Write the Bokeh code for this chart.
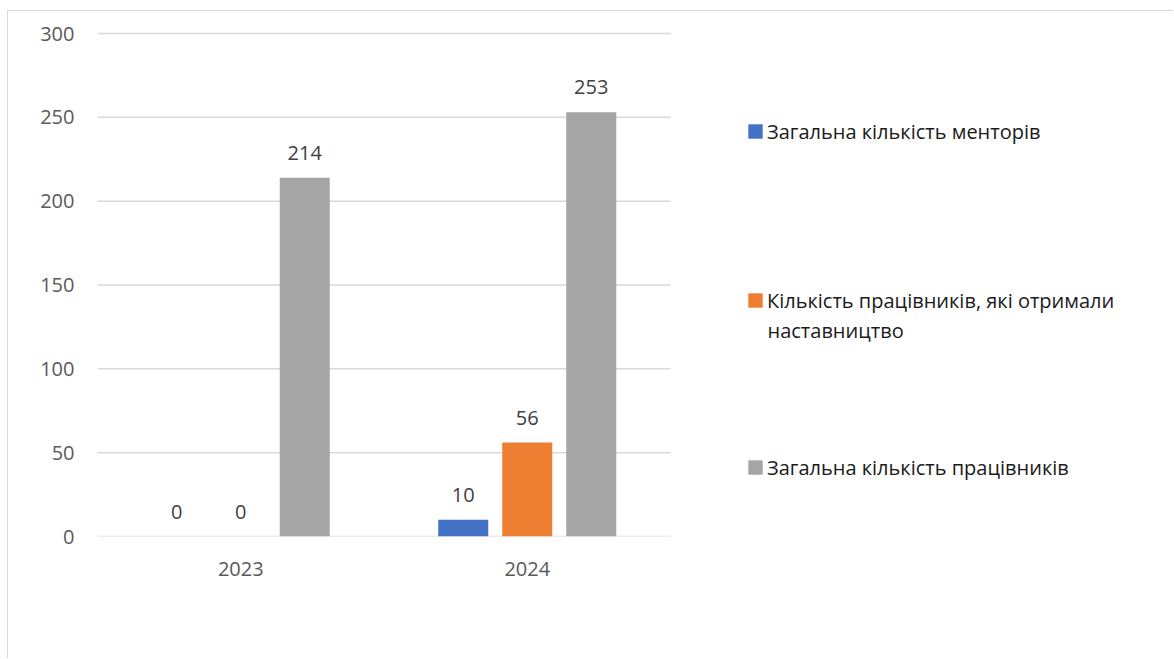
from bokeh.plotting import figure
from bokeh.models import (ColumnDataSource, Range1d, FixedTicker, LabelSet, Label,
                          Legend, LegendItem)
from bokeh.core.properties import value
from bokeh.embed import file_html
from bokeh.resources import INLINE

years = ["2023", "2024"]
mentors = [0, 10]
mentees = [0, 56]
employees = [214, 253]
series_names = ["Загальна кількість менторів",
                "Кількість працівників, які отримали",
                "Загальна кількість працівників"]
series2_second_line = "наставництво"
y_ticks = [0, 50, 100, 150, 200, 250, 300]

colors = ["#4472C4", "#ED7D31", "#A5A5A5"]
FONT = "Open Sans"

xc = [i + 0.5 for i in range(len(years))]
off = 0.2234
bw = 0.1745
series = [mentors, mentees, employees]

p = figure(x_range=Range1d(0, 1077 / 286.5), y_range=Range1d(0, 301.2),
           width=1166, height=648, output_backend="svg", toolbar_location=None,
           min_border_left=89, min_border_right=0, min_border_top=20, min_border_bottom=123)
p.styles = {"margin-left": "7px", "margin-top": "10px",
            "border-left": "1px solid #d9d9d9", "border-top": "1px solid #d9d9d9"}
p.outline_line_color = None
p.background_fill_color = "white"
p.border_fill_color = "white"
p.xgrid.grid_line_color = None
p.ygrid.grid_line_color = None

# horizontal gridlines across the category area only
p.segment(x0=0, x1=len(years), y0=y_ticks, y1=y_ticks, line_color="#d9d9d9", line_width=1.5)

renderers = []
for i, (vals, col) in enumerate(zip(series, colors)):
    d = (i - 1) * off
    src = ColumnDataSource(dict(x=[x + d for x in xc], top=vals, t=[str(v) for v in vals]))
    r = p.vbar(x="x", top="top", width=bw, source=src, fill_color=col, line_color=None)
    renderers.append(r)
    p.add_layout(LabelSet(x="x", y="top", text="t", source=src,
                          text_align="center", text_baseline="alphabetic", y_offset=18,
                          text_font=value(FONT), text_font_size="20px", text_color="#404040"))

p.xaxis.ticker = FixedTicker(ticks=xc)
p.xaxis.major_label_overrides = {x: y for x, y in zip(xc, years)}
p.yaxis.ticker = FixedTicker(ticks=y_ticks)
for ax in (p.xaxis, p.yaxis):
    ax.axis_line_color = None
    ax.major_tick_line_color = None
    ax.minor_tick_line_color = None
    ax.major_tick_in = 0
    ax.major_tick_out = 0
    ax.major_label_text_font = FONT
    ax.major_label_text_font_size = "20px"
    ax.major_label_text_color = "#595959"
p.yaxis.major_label_standoff = 23
p.xaxis.major_label_standoff = 25

leg_y = [391.5, 222.5, 55.5]
for r, name, yy in zip(renderers, series_names, leg_y):
    leg = Legend(items=[LegendItem(label=name, renderers=[r])], location=(649, yy),
                 padding=0, margin=0, border_line_color=None, background_fill_alpha=0,
                 glyph_width=18, glyph_height=18, label_standoff=3,
                 label_text_font=FONT, label_text_font_size="20px", label_text_color="#1a1a1a")
    p.add_layout(leg, "center")

p.add_layout(Label(x=670, y=206, x_units="screen", y_units="screen", text=series2_second_line,
                   text_baseline="middle", text_font=FONT, text_font_size="20px",
                   text_color="#1a1a1a"))

open("out.html", "w").write(file_html(p, INLINE))
